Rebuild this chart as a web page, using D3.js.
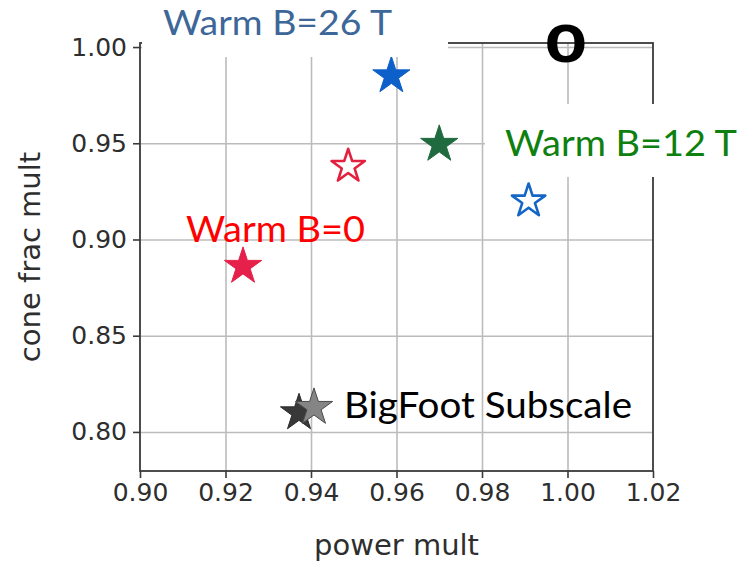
<!DOCTYPE html>
<html>
<head>
<meta charset="utf-8">
<script src="https://cdn.jsdelivr.net/npm/d3@7"></script>
<style>
  html, body { margin: 0; padding: 0; background: #ffffff; }
  svg { display: block; }
</style>
</head>
<body>
<svg id="chart" width="743" height="563"></svg>
<script>
// ---- data ----
const caseNames   = ["Warm B=26 T", "Warm B=12 T", "Warm B=0 (open)", "Warm B=26 T (open)", "Warm B=0", "BigFoot Subscale A", "BigFoot Subscale B"];
const powerMult   = [0.9588, 0.9700, 0.9487, 0.9909, 0.9241, 0.9372, 0.9407];
const coneFracMult = [0.9850, 0.9494, 0.9380, 0.9200, 0.8860, 0.8099, 0.8127];
const xTickValues = [0.90, 0.92, 0.94, 0.96, 0.98, 1.00, 1.02];
const yTickValues = [0.80, 0.85, 0.90, 0.95, 1.00];
const xDomain = [0.90, 1.02];
const yDomain = [0.7797, 1.0021];
const annotationTexts = ["Warm B=26 T", "Warm B=12 T", "Warm B=0", "BigFoot Subscale", "o"];

// ---- styles ----
const markerStyle = {
  "Warm B=26 T":        {fill: "#0d5fc9", stroke: "#0d5fc9", open: false},
  "Warm B=12 T":        {fill: "#1f6b3f", stroke: "#1f6b3f", open: false},
  "Warm B=0 (open)":    {fill: "#ffffff", stroke: "#e4203f", open: true},
  "Warm B=26 T (open)": {fill: "#ffffff", stroke: "#1466c6", open: true},
  "Warm B=0":           {fill: "#e5204a", stroke: "#e5204a", open: false},
  "BigFoot Subscale A": {fill: "#383838", stroke: "#2a2a2a", open: false},
  "BigFoot Subscale B": {fill: "#858585", stroke: "#4a4a4a", open: false}
};

const svg = d3.select("#chart");
const plot = {left: 140, right: 653, top: 43, bottom: 471};

const x = d3.scaleLinear().domain(xDomain).range([plot.left, plot.right]);
const y = d3.scaleLinear().domain(yDomain).range([plot.bottom, plot.top]);

const axisColor = "#3a3a3a";
const gridColor = "#bcbcbc";
const tickFont = "'DejaVu Sans', sans-serif";

// grid
const gx = svg.append("g").attr("transform", `translate(0,${plot.bottom})`)
  .call(d3.axisBottom(x).tickValues(xTickValues.slice(1, -1)).tickSize(-(plot.bottom - plot.top)).tickFormat(""));
gx.select(".domain").remove();
gx.selectAll("line").attr("stroke", gridColor).attr("stroke-width", 1.6);

const gy = svg.append("g").attr("transform", `translate(${plot.left},0)`)
  .call(d3.axisLeft(y).tickValues(yTickValues).tickSize(-(plot.right - plot.left)).tickFormat(""));
gy.select(".domain").remove();
gy.selectAll("line").attr("stroke", gridColor).attr("stroke-width", 1.6);

// spines
svg.append("rect")
  .attr("x", plot.left).attr("y", plot.top)
  .attr("width", plot.right - plot.left).attr("height", plot.bottom - plot.top)
  .attr("fill", "none").attr("stroke", axisColor).attr("stroke-width", 1.8);

// axes
const ax = svg.append("g").attr("transform", `translate(0,${plot.bottom})`)
  .call(d3.axisBottom(x).tickValues(xTickValues).tickSize(7).tickPadding(5).tickFormat(d3.format(".2f")));
ax.select(".domain").remove();
ax.selectAll("line").attr("stroke", axisColor).attr("stroke-width", 1.6);
ax.selectAll("text").attr("font-family", tickFont).attr("font-size", 25).attr("fill", "#2e2e2e");

const ay = svg.append("g").attr("transform", `translate(${plot.left},0)`)
  .call(d3.axisLeft(y).tickValues(yTickValues).tickSize(7).tickPadding(6).tickFormat(d3.format(".2f")));
ay.select(".domain").remove();
ay.selectAll("line").attr("stroke", axisColor).attr("stroke-width", 1.6);
ay.selectAll("text").attr("font-family", tickFont).attr("font-size", 25).attr("fill", "#2e2e2e");

// axis labels
svg.append("text")
  .attr("x", (plot.left + plot.right) / 2).attr("y", 555)
  .attr("text-anchor", "middle")
  .attr("font-family", tickFont).attr("font-size", 29).attr("fill", "#2e2e2e")
  .text("power mult");
svg.append("text")
  .attr("transform", `translate(40,${(plot.top + plot.bottom) / 2}) rotate(-90)`)
  .attr("text-anchor", "middle")
  .attr("font-family", tickFont).attr("font-size", 29).attr("fill", "#2e2e2e")
  .text("cone frac mult");

// markers
const pts = caseNames.map((n, i) => ({name: n, px: powerMult[i], cy: coneFracMult[i]}));
const starFilled = d3.symbol().type(d3.symbolStar).size(430);
const starOpen = d3.symbol().type(d3.symbolStar).size(345);
svg.append("g").selectAll("path").data(pts).join("path")
  .attr("transform", d => `translate(${x(d.px)},${y(d.cy)})`)
  .attr("d", d => markerStyle[d.name].open ? starOpen() : starFilled())
  .attr("fill", d => markerStyle[d.name].fill)
  .attr("stroke", d => markerStyle[d.name].stroke)
  .attr("stroke-width", d => markerStyle[d.name].open ? 2.6 : 1)
  .attr("stroke-linejoin", "round");

// annotation boxes (white patches pasted over the plot)
svg.append("rect").attr("x", 142).attr("y", 0).attr("width", 306).attr("height", 57).attr("fill", "#ffffff");
svg.append("rect").attr("x", 485).attr("y", 104).attr("width", 258).attr("height", 73).attr("fill", "#ffffff");

const labelFont = "Lato, 'Open Sans', sans-serif";
function label(t, x0, yb, w, color, fs) {
  svg.append("text")
    .attr("x", x0).attr("y", yb)
    .attr("font-family", labelFont).attr("font-size", fs).attr("fill", color)
    .attr("textLength", w).attr("lengthAdjust", "spacingAndGlyphs")
    .text(t);
}
label(annotationTexts[0], 163, 35, 229, "#3d6699", 34);
label(annotationTexts[1], 505, 156, 232, "#0e800f", 36);
label(annotationTexts[2], 186, 242, 179, "#ff0000", 36);
label(annotationTexts[3], 344, 418, 288, "#000000", 36);

svg.append("text")
  .attr("x", 566).attr("y", 62)
  .attr("text-anchor", "middle")
  .attr("font-family", "'Liberation Sans', Arial, sans-serif").attr("font-weight", "bold")
  .attr("font-size", 70).attr("fill", "#000000")
  .text(annotationTexts[4]);
</script>
</body>
</html>
